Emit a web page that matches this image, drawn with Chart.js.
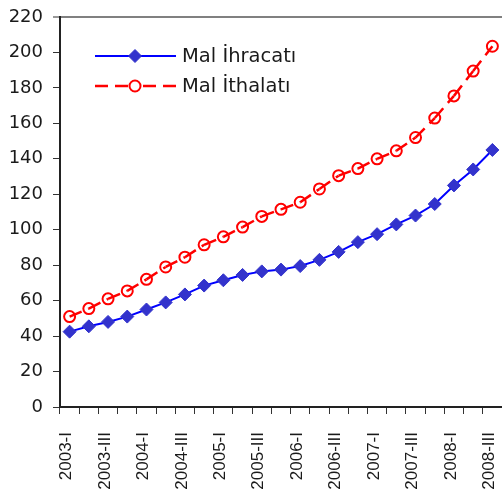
<!DOCTYPE html>
<html>
<head>
<meta charset="utf-8">
<script src="https://cdn.jsdelivr.net/npm/chart.js@4/dist/chart.umd.min.js"></script>
<style>
  html, body { margin: 0; padding: 0; background: #fff; }
  #wrap { width: 502px; height: 503px; }
</style>
</head>
<body>
<div id="wrap"><canvas id="c" width="502" height="503"></canvas></div>
<script>
// Quarterly periods (2003-I .. 2008-III)
const quarters = [
  '2003-I', '2003-II', '2003-III', '2003-IV',
  '2004-I', '2004-II', '2004-III', '2004-IV',
  '2005-I', '2005-II', '2005-III', '2005-IV',
  '2006-I', '2006-II', '2006-III', '2006-IV',
  '2007-I', '2007-II', '2007-III', '2007-IV',
  '2008-I', '2008-II', '2008-III'
];

// Goods exports
const malIhracati = [
  42.5, 45.5, 48, 51, 55, 59, 63.5, 68.5,
  71.5, 74.5, 76.5, 77.5, 79.5, 83, 87.5, 93,
  97.5, 103, 108, 114.5, 125, 134, 145
];

// Goods imports
const malIthalati = [
  51, 55.5, 61, 65.5, 72, 79, 84.5, 91.5,
  96, 101.5, 107.5, 111.5, 115.5, 123, 130.5, 134.5,
  140, 144.5, 152, 163, 175.5, 189.5, 203.5
];

const seriesNames = ['Mal İhracatı', 'Mal İthalatı'];

const yMin = 0, yMax = 220, yStep = 20;

const tickFont = { family: 'DejaVu Sans', size: 18 };
const catFont = { family: 'Liberation Sans', size: 17 };

// Legend drawn inside the plot, one row per series: line + marker + name
const insideLegend = {
  id: 'insideLegend',
  afterDatasetsDraw(chart) {
    const ctx = chart.ctx;
    const x0 = 95, x1 = 176, xm = 135, tx = 182;
    const rows = [56, 86];
    chart.data.datasets.forEach((ds, i) => {
      const y = rows[i];
      ctx.save();
      ctx.strokeStyle = ds.borderColor;
      ctx.lineWidth = ds.borderWidth;
      ctx.lineCap = 'butt';
      const dash = ds.borderDash || [];
      ctx.setLineDash(dash);
      // left half, dash pattern starting at the outer end
      ctx.beginPath(); ctx.moveTo(x0, y); ctx.lineTo(xm, y); ctx.stroke();
      // right half, mirrored
      ctx.beginPath(); ctx.moveTo(x1, y); ctx.lineTo(xm, y); ctx.stroke();
      ctx.setLineDash([]);
      const opts = {
        pointStyle: ds.pointStyle,
        radius: ds.pointRadius,
        borderWidth: ds.pointBorderWidth,
        rotation: 0
      };
      ctx.fillStyle = ds.legendMarkerFill || ds.pointBackgroundColor;
      ctx.strokeStyle = ds.pointBorderColor;
      ctx.lineWidth = ds.pointBorderWidth;
      Chart.helpers.drawPoint(ctx, opts, xm, y);
      ctx.fillStyle = '#1a1a1a';
      ctx.font = '19.5px "DejaVu Sans"';
      ctx.textBaseline = 'middle';
      ctx.textAlign = 'left';
      ctx.fillText(ds.label, tx, y + 1);
      ctx.restore();
    });
  }
};

new Chart(document.getElementById('c'), {
  type: 'line',
  data: {
    labels: quarters,
    datasets: [
      {
        label: seriesNames[0],
        data: malIhracati,
        borderColor: '#0000ff',
        borderWidth: 2,
        tension: 0,
        pointStyle: 'rectRot',
        pointRadius: 6.5,
        pointBackgroundColor: '#3333cc',
        pointBorderColor: '#3333cc',
        pointBorderWidth: 1
      },
      {
        label: seriesNames[1],
        data: malIthalati,
        borderColor: '#ff0000',
        borderWidth: 2.5,
        borderDash: [13, 7],
        tension: 0,
        // restart the dash at every point, segment by segment
        segment: {
          borderDashOffset: c => (c.p0DataIndex % 2 ? 0.0001 : 0)
        },
        pointStyle: 'circle',
        pointRadius: 5.5,
        pointBackgroundColor: 'rgba(255,255,255,0)',
        legendMarkerFill: '#ffffff',
        pointBorderColor: '#ff0000',
        pointBorderWidth: 2
      }
    ]
  },
  options: {
    responsive: false,
    animation: false,
    layout: { autoPadding: false, padding: { top: 17, left: 0, right: 0, bottom: 0 } },
    plugins: {
      legend: { display: false },
      tooltip: { enabled: false }
    },
    scales: {
      x: {
        offset: true,
        grid: {
          offset: true,
          drawOnChartArea: false,
          drawTicks: true,
          tickLength: 7,
          color: '#333333',
          lineWidth: 1
        },
        border: { color: '#222222', width: 2 },
        ticks: {
          autoSkip: false,
          minRotation: 90,
          maxRotation: 90,
          padding: 18,
          labelOffset: -3,
          color: '#1a1a1a',
          font: catFont,
          callback: function (v, i) { return i % 2 === 0 ? this.getLabelForValue(v) : ''; }
        },
        afterFit: s => {
          s.height = 96;
          s.paddingLeft = 0;
          s.paddingRight = 0;
        }
      },
      y: {
        min: yMin,
        max: yMax,
        grid: {
          drawOnChartArea: true,
          drawTicks: true,
          tickLength: 7,
          color: c => (c.tick && c.tick.value === yMax ? '#808080' : 'rgba(0,0,0,0)'),
          lineWidth: c => (c.tick && c.tick.value === yMax ? 2 : 1),
          tickColor: '#333333',
          tickWidth: 1
        },
        border: { color: '#222222', width: 2 },
        ticks: {
          stepSize: yStep,
          padding: 10,
          color: '#1a1a1a',
          font: tickFont
        },
        afterFit: s => {
          s.width = 60;
          s.paddingTop = 0;
          s.paddingBottom = 0;
        }
      }
    }
  },
  plugins: [insideLegend]
});
</script>
</body>
</html>
